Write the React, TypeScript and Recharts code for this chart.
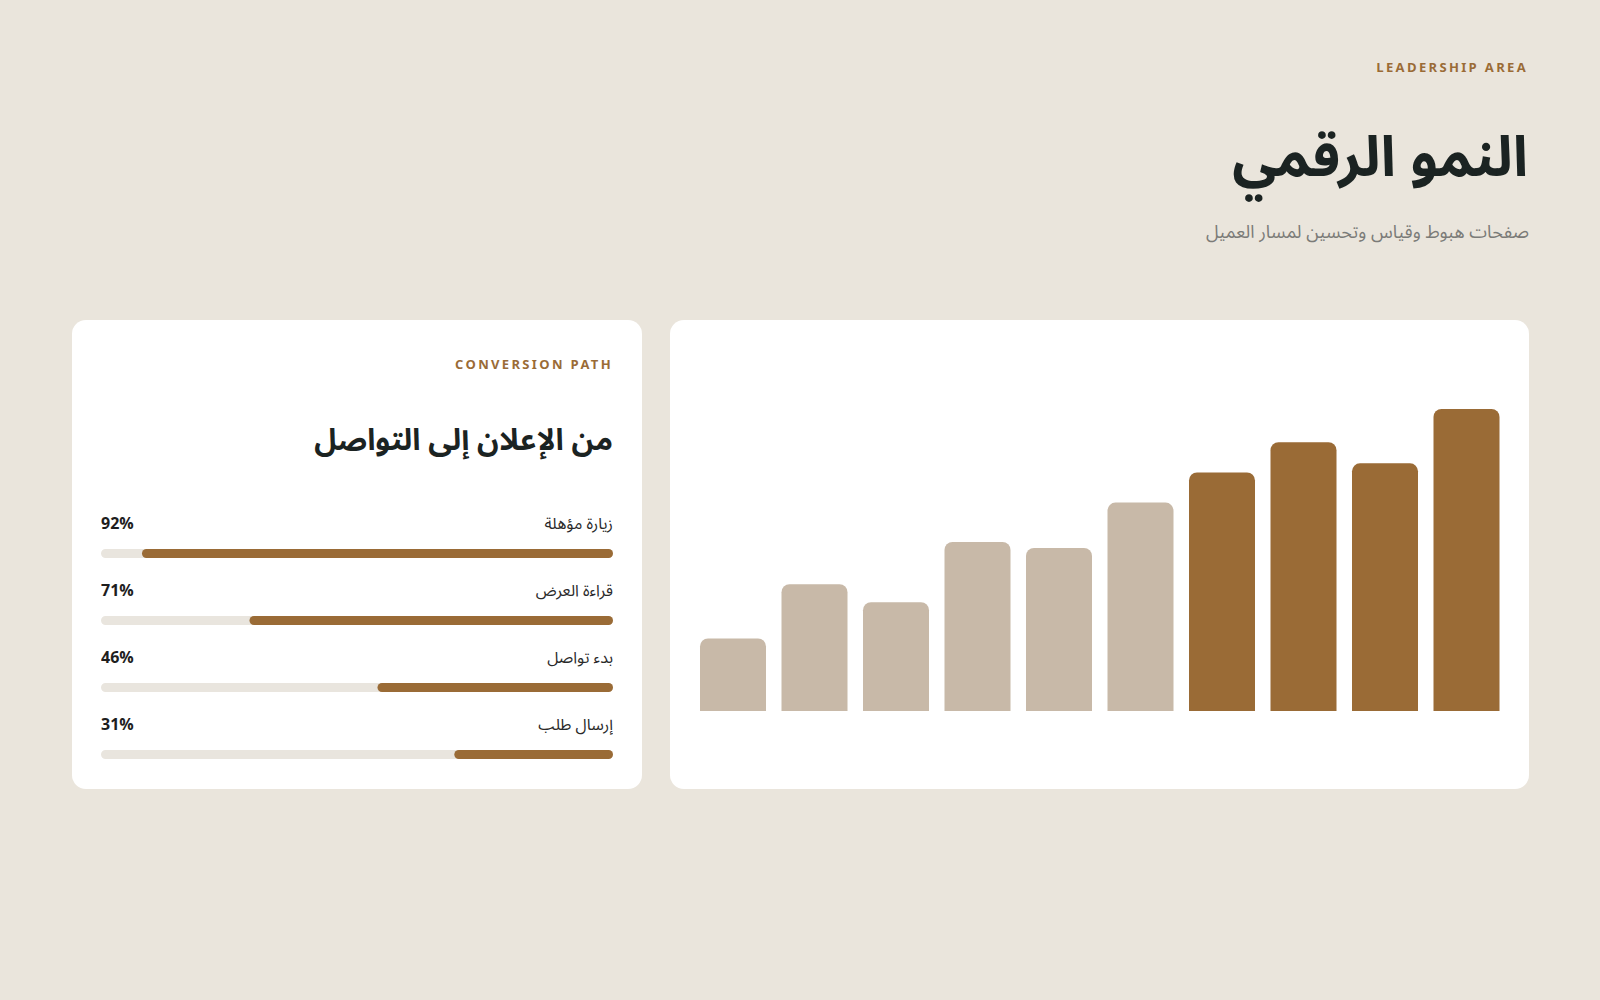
import { Bar, BarChart, Cell, LabelList, XAxis, YAxis } from "recharts"

// growth bars (right card), axis hidden
const periods = ["1", "2", "3", "4", "5", "6", "7", "8", "9", "10"]
const growth = [24, 42, 36, 56, 54, 69, 79, 89, 82, 100]
const highlightFrom = 6

// conversion funnel (left card)
const steps = ["زيارة مؤهلة", "قراءة العرض", "بدء تواصل", "إرسال طلب"]
const rates = [92, 71, 46, 31]

const BG = "#EAE5DC"
const ACCENT = "#9A6B36"
const MUTED = "#C8B9A8"
const TRACK = "#E9E5DE"
const INK = "#1B2322"
const FONT = "'Noto Sans Arabic', 'Noto Sans', 'Open Sans', 'DejaVu Sans', sans-serif"

const growthData = periods.map((p, i) => ({ period: p, value: growth[i] }))
const funnelData = steps.map((s, i) => ({ step: s, rate: rates[i] }))

const FUNNEL_W = 512
const FUNNEL_TOP = 24
const FUNNEL_H = 268 + FUNNEL_TOP

function StepLabel(props: any) {
  const { y, height, index } = props
  const cy = y + height / 2 - 30
  const row = funnelData[index]
  return (
    <g>
      <text x={0} y={cy} dy="0.35em" textAnchor="start" fontSize={16} fontWeight={700} fill="#1E1E1E" fontFamily={FONT}>
        {row.rate}%
      </text>
      <text x={FUNNEL_W} y={cy} dy="0.35em" textAnchor="end" fontSize={16} fill="#2A2A2A" fontFamily={FONT}>
        {row.step}
      </text>
    </g>
  )
}

const kicker: React.CSSProperties = {
  position: "absolute",
  fontSize: 13,
  fontWeight: 700,
  letterSpacing: "0.18em",
  color: ACCENT,
  lineHeight: "20px",
  whiteSpace: "nowrap",
}

export default function App() {
  return (
    <div style={{ position: "absolute", left: 0, top: 0, width: 1600, height: 1000, background: BG, fontFamily: FONT, overflow: "hidden" }}>
      <div style={{ ...kicker, right: 72, top: 58 }}>LEADERSHIP AREA</div>
      <div dir="rtl" style={{ position: "absolute", right: 72, top: 126, fontSize: 56, fontWeight: 700, color: INK, lineHeight: "64px", whiteSpace: "nowrap" }}>
        النمو الرقمي
      </div>
      <div dir="rtl" style={{ position: "absolute", right: 71, top: 219, fontSize: 18, color: "#7B7B78", lineHeight: "26px", whiteSpace: "nowrap" }}>
        صفحات هبوط وقياس وتحسين لمسار العميل
      </div>

      {/* left card */}
      <div style={{ position: "absolute", left: 72, top: 320, width: 570, height: 469, background: "#fff", borderRadius: 14 }}>
        <div style={{ ...kicker, right: 29, top: 35 }}>CONVERSION PATH</div>
        <div dir="rtl" style={{ position: "absolute", right: 29, top: 101, fontSize: 30, fontWeight: 700, color: INK, lineHeight: "40px", whiteSpace: "nowrap" }}>
          من الإعلان إلى التواصل
        </div>
        <div style={{ position: "absolute", left: 29, top: 200 - FUNNEL_TOP }}>
          <BarChart width={FUNNEL_W} height={FUNNEL_H} data={funnelData} layout="vertical" margin={{ top: FUNNEL_TOP, right: 0, bottom: 0, left: 0 }} style={{ overflow: "visible" }}>
            <XAxis type="number" domain={[0, 100]} reversed hide />
            <YAxis type="category" dataKey="step" hide />
            <Bar
              dataKey="rate"
              fill={ACCENT}
              barSize={9}
              radius={5}
              background={{ fill: TRACK, radius: 5 }}
              isAnimationActive={false}
            >
              <LabelList dataKey="rate" content={<StepLabel />} />
            </Bar>
          </BarChart>
        </div>
      </div>

      {/* right card */}
      <div style={{ position: "absolute", left: 670, top: 320, width: 859, height: 469, background: "#fff", borderRadius: 14 }}>
        <BarChart width={859} height={469} data={growthData} margin={{ top: 89, right: 22, bottom: 78, left: 22 }}>
          <XAxis dataKey="period" hide />
          <YAxis domain={[0, 100]} hide />
          <Bar dataKey="value" barSize={66} radius={[8, 8, 0, 0]} isAnimationActive={false}>
            {growthData.map((d, i) => (
              <Cell key={d.period} fill={i >= highlightFrom ? ACCENT : MUTED} />
            ))}
          </Bar>
        </BarChart>
      </div>
    </div>
  )
}
